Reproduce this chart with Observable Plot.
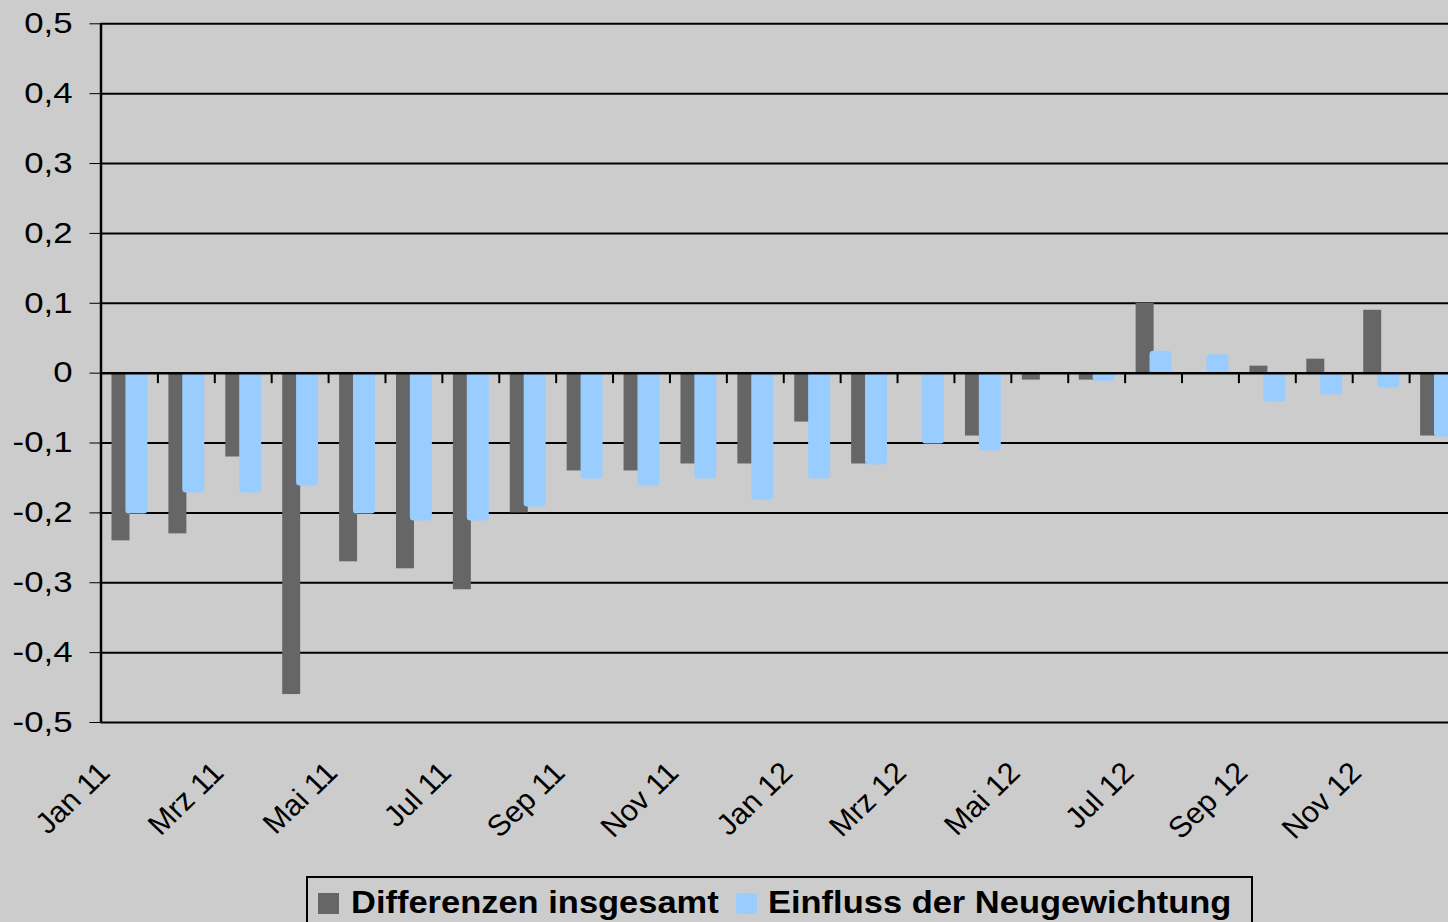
<!DOCTYPE html>
<html>
<head>
<meta charset="utf-8">
<script src="https://cdn.jsdelivr.net/npm/d3@7"></script>
<script src="https://cdn.jsdelivr.net/npm/@observablehq/plot@0.6"></script>
<style>
  html, body { margin: 0; padding: 0; background: #cccccc; overflow: hidden; }
  #wrap { position: relative; width: 1448px; height: 922px; overflow: hidden; background: #cccccc; }
  #legend { position: absolute; left: 306px; top: 876px; width: 947px; height: 70px; border: 2px solid #000; box-sizing: border-box;
            font-family: "Liberation Sans", Arial, sans-serif; font-weight: bold; font-size: 30.5px; color: #000; }
  #legend .sw { position: absolute; width: 21px; height: 21px; }
  #legend .lab { position: absolute; line-height: 30px; white-space: nowrap; transform: scaleX(1.13); transform-origin: left center; }
</style>
</head>
<body>
<div id="wrap">
  <div id="chart"></div>
  <div id="legend"></div>
</div>
<script>
// ---- data ----
const months = [
  "Jan 11", "Feb 11", "Mrz 11", "Apr 11", "Mai 11", "Jun 11", "Jul 11", "Aug 11", "Sep 11", "Okt 11", "Nov 11", "Dez 11",
  "Jan 12", "Feb 12", "Mrz 12", "Apr 12", "Mai 12", "Jun 12", "Jul 12", "Aug 12", "Sep 12", "Okt 12", "Nov 12", "Dez 12"
];
const diffTotal = [-0.24, -0.23, -0.12, -0.46, -0.27, -0.28, -0.31, -0.20, -0.14, -0.14, -0.13, -0.13,
                   -0.07, -0.13, 0.00, -0.09, -0.01, -0.01, 0.10, 0.00, 0.01, 0.02, 0.09, -0.09];
const reweight  = [-0.20, -0.17, -0.17, -0.16, -0.20, -0.21, -0.21, -0.19, -0.15, -0.16, -0.15, -0.18,
                   -0.15, -0.13, -0.10, -0.11, 0.00, -0.01, 0.03, 0.025, -0.04, -0.03, -0.02, -0.09];
const xTickLabels = ["Jan 11", "Mrz 11", "Mai 11", "Jul 11", "Sep 11", "Nov 11", "Jan 12", "Mrz 12", "Mai 12", "Jul 12", "Sep 12", "Nov 12"];
const yTicks = [-0.5, -0.4, -0.3, -0.2, -0.1, 0, 0.1, 0.2, 0.3, 0.4, 0.5];
const yTickLabels = ["-0,5", "-0,4", "-0,3", "-0,2", "-0,1", "0", "0,1", "0,2", "0,3", "0,4", "0,5"];
const seriesNames = ["Differenzen insgesamt", "Einfluss der Neugewichtung"];

// ---- styles ----
const darkColor = "#666666";
const blueColor = "#99ccff";
const font = "'Liberation Sans', Arial, sans-serif";

const table = months.map((m, i) => ({month: m, total: diffTotal[i], reweight: reweight[i]}));

const xRange = [100.5, 1466];
const bw = (xRange[1] - xRange[0]) / months.length;

const chart = Plot.plot({
  width: 1448,
  height: 870,
  marginLeft: 100.5,
  marginRight: 0,
  marginTop: 23.3,
  marginBottom: 148,
  style: {background: "#cccccc", fontFamily: font, fontSize: "29px", color: "#000", overflow: "hidden"},
  x: {domain: months, range: xRange, padding: 0, round: false, axis: null},
  y: {
    domain: [-0.5, 0.5], range: [722, 23.3], ticks: yTicks, tickSize: 11, tickPadding: 17.5,
    tickFormat: d => yTickLabels[yTicks.findIndex(t => Math.abs(t - d) < 1e-9)], label: null
  },
  marks: [
    Plot.ruleY(yTicks.filter(d => d !== 0), {stroke: "#000", strokeWidth: 2}),
    Plot.barY(table, {x: "month", y: "total", fill: darkColor, insetLeft: 11, insetRight: 27.9}),
    Plot.barY(table, {x: "month", y: "reweight", fill: blueColor, stroke: blueColor, strokeWidth: 2, rx: 2.5,
                      insetLeft: 25.9, insetRight: 11}),
    Plot.ruleY([0], {stroke: "#000", strokeWidth: 2.5}),
    Plot.ruleX(months, {x: d => d, y1: 0, y2: 0, insetBottom: -10.5, dx: -bw / 2, stroke: "#000", strokeWidth: 2}),
    Plot.ruleX([months[0]], {x: d => d, y1: -0.5, y2: 0.5, dx: -bw / 2, stroke: "#000", strokeWidth: 2.5}),
    Plot.text(xTickLabels, {x: d => d, frameAnchor: "bottom", rotate: -45, textAnchor: "end", lineAnchor: "bottom",
                            dx: -18, dy: 52, fontSize: 29.5, fill: "#000"})
  ]
});
document.getElementById("chart").appendChild(chart);

// horizontal stretch of the labels to match the reference rendering
function stretch(el, s) {
  const xa = el.getAttribute("x");
  const x = (xa && !/em$/.test(xa)) ? (parseFloat(xa) || 0) : 0;
  const t = el.getAttribute("transform") || "";
  el.setAttribute("transform", `${t} translate(${x},0) scale(${s},1) translate(${-x},0)`.trim());
}
chart.querySelectorAll('g[aria-label="y-axis tick label"] text').forEach(t => stretch(t, 1.2));
chart.querySelectorAll('g[aria-label="text"] text').forEach(t => {
  const tr = t.getAttribute("transform") || "";
  t.setAttribute("transform", tr.replace("rotate(", "scale(1.04,1) rotate("));
});

// ---- legend ----
const legend = document.getElementById("legend");
const items = [
  {name: seriesNames[0], color: darkColor, sw: 10, tx: 43, r: 0},
  {name: seriesNames[1], color: blueColor, sw: 428, tx: 460, r: 3}
];
items.forEach(it => {
  const s = document.createElement("div");
  s.className = "sw";
  s.style.left = it.sw + "px";
  s.style.top = "14.5px";
  s.style.background = it.color;
  s.style.borderRadius = it.r + "px";
  legend.appendChild(s);
  const l = document.createElement("div");
  l.className = "lab";
  l.style.left = it.tx + "px";
  l.style.top = "9.3px";
  l.textContent = it.name;
  legend.appendChild(l);
});
</script>
</body>
</html>
